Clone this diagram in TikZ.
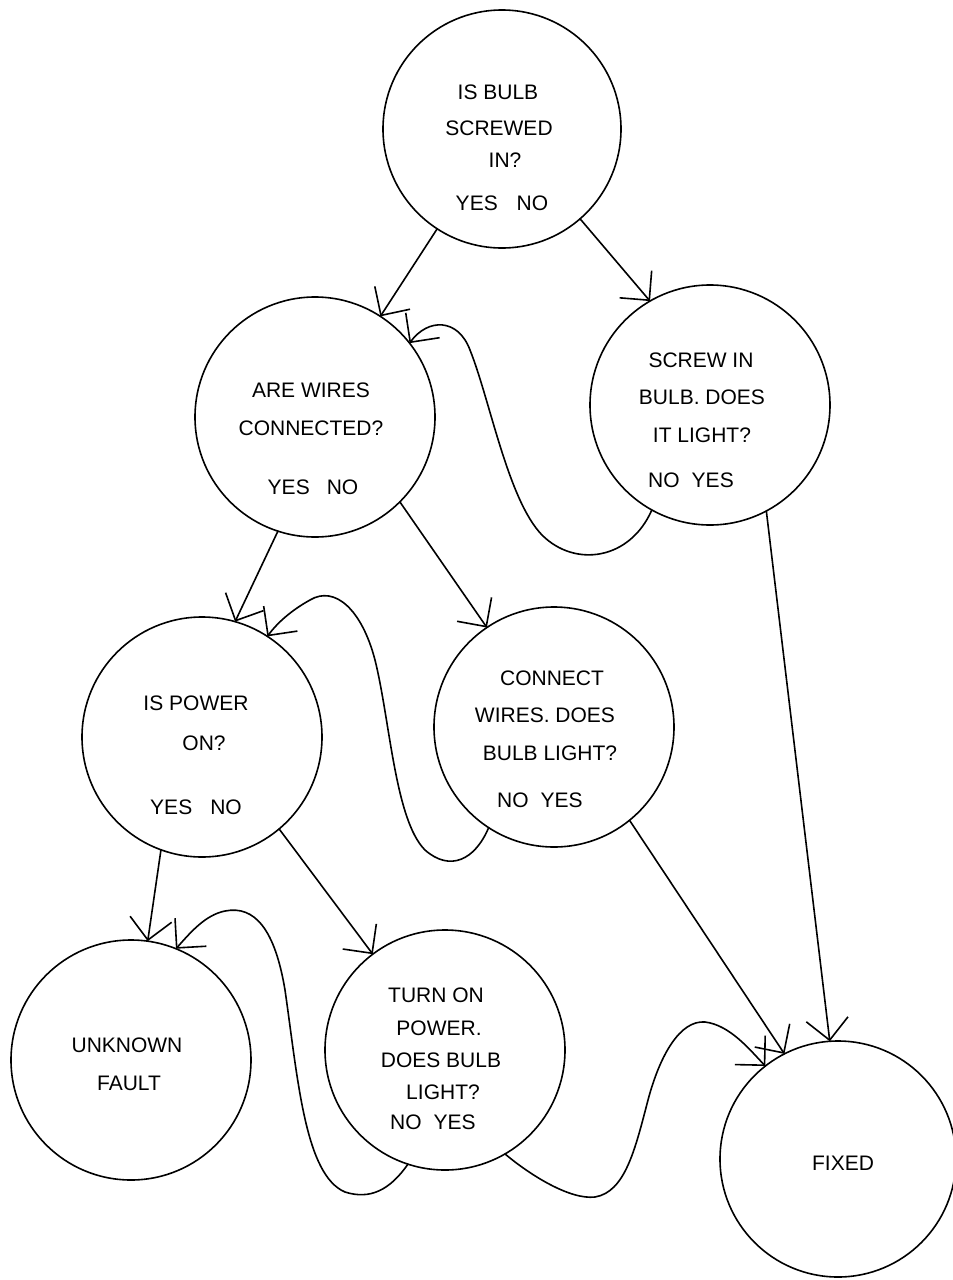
\documentclass[tikz,border=0pt]{standalone}
\usepackage{fontspec}
\setmainfont{Liberation Sans}
\usetikzlibrary{arrows.meta}
\begin{document}
\begin{tikzpicture}[x=1pt,y=-1pt,
  state/.style={draw, circle, line width=1.6pt, minimum size=240pt, inner sep=0pt, outer sep=0pt},
  txt/.style={anchor=base, inner sep=0pt, font=\fontsize{21}{25}\selectfont},
  flow/.style={line width=1.6pt, line cap=round, line join=round, -{Straight Barb[length=21pt,width=42pt]}},
]
% page
\fill[white] (0,0) rectangle (953,1280);
\useasboundingbox (0,0) rectangle (953,1280);

% decision and action circles
\node[state, minimum size=238pt] (bulb)    at (502,129)  {};
\node[state] (wires)   at (315,417)  {};
\node[state] (screw)   at (710,405)  {};
\node[state] (power)   at (202,737)  {};
\node[state] (connect) at (554,727)  {};
\node[state] (fault)   at (131,1060) {};
\node[state] (turnon)  at (445,1050) {};
\node[state, minimum size=236pt] (fixed) at (838,1159) {};

% circle texts
\node[txt] (bulb1) at (498,99.5)  {IS BULB};
\node[txt] (bulb2) at (499,135.5) {SCREWED};
\node[txt] (bulb3) at (505,167.5) {IN?};
\node[txt] (bulb4) at (502,210.5) {YES\hspace{19pt}NO};

\node[txt] (wires1) at (311,397.5) {ARE WIRES};
\node[txt] (wires2) at (311,435.5) {CONNECTED?};
\node[txt] (wires3) at (313,494.5) {YES\hspace{17pt}NO};

\node[txt] (screw1) at (701,367.5) {SCREW IN};
\node[txt] (screw2) at (702,404.5) {BULB. DOES};
\node[txt] (screw3) at (702,442.5) {IT LIGHT?};
\node[txt] (screw4) at (691,487.5) {NO\hspace{12pt}YES};

\node[txt] (power1) at (196,710.5) {IS POWER};
\node[txt] (power2) at (204,750.5) {ON?};
\node[txt] (power3) at (196,814.5) {YES\hspace{18pt}NO};

\node[txt] (connect1) at (552,685.5) {CONNECT};
\node[txt] (connect2) at (545,722.5) {WIRES. DOES};
\node[txt] (connect3) at (550,760.5) {BULB LIGHT?};
\node[txt] (connect4) at (540,807.5) {NO\hspace{12pt}YES};

\node[txt] (fault1) at (127,1052.5) {UNKNOWN};
\node[txt] (fault2) at (129,1090.5) {FAULT};

\node[txt] (turnon1) at (436,1002.5) {TURN ON};
\node[txt] (turnon2) at (439,1035.5) {POWER.};
\node[txt] (turnon3) at (441,1067.5) {DOES BULB};
\node[txt] (turnon4) at (443,1099.5) {LIGHT?};
\node[txt] (turnon5) at (433,1129.5) {NO\hspace{12pt}YES};

\node[txt] (fixed1) at (843,1170.5) {FIXED};

% straight branches
\draw[flow] (bulb.237)  -- (wires.57);
\draw[flow] (bulb.311)  -- (screw.120);
\draw[flow] (wires.252) -- (power.74);
\draw[flow] (wires.315) -- (connect.124);
\draw[flow] (power.250) -- (fault.82);
\draw[flow] (power.310) -- (turnon.127);
\draw[flow] (connect.309) -- (fixed.117);
\draw[flow] (screw.298) -- (fixed.94);

% looping branches
\draw[flow] (screw.241) .. controls (630,560) and (575,568) .. (542,535)
  .. controls (508,500) and (490,400) .. (470,350)
  .. controls (458,318) and (428,318) .. (wires.38);
\draw[flow] (connect.237) .. controls (475,860) and (450,872) .. (425,850)
  .. controls (395,820) and (390,720) .. (375,660)
  .. controls (362,610) and (335,585) .. (310,600)
  .. controls (292,610) and (278,622) .. (power.57);
\draw[flow] (turnon.252) .. controls (390,1190) and (370,1200) .. (345,1192)
  .. controls (305,1175) and (298,1080) .. (285,990)
  .. controls (275,930) and (255,905) .. (225,911)
  .. controls (205,915) and (190,933) .. (fault.68);
\draw[flow] (turnon.300) .. controls (530,1175) and (570,1200) .. (595,1197)
  .. controls (625,1192) and (635,1150) .. (648,1100)
  .. controls (660,1055) and (680,1020) .. (705,1022)
  .. controls (730,1025) and (750,1050) .. (fixed.128);
\end{tikzpicture}
\end{document}
